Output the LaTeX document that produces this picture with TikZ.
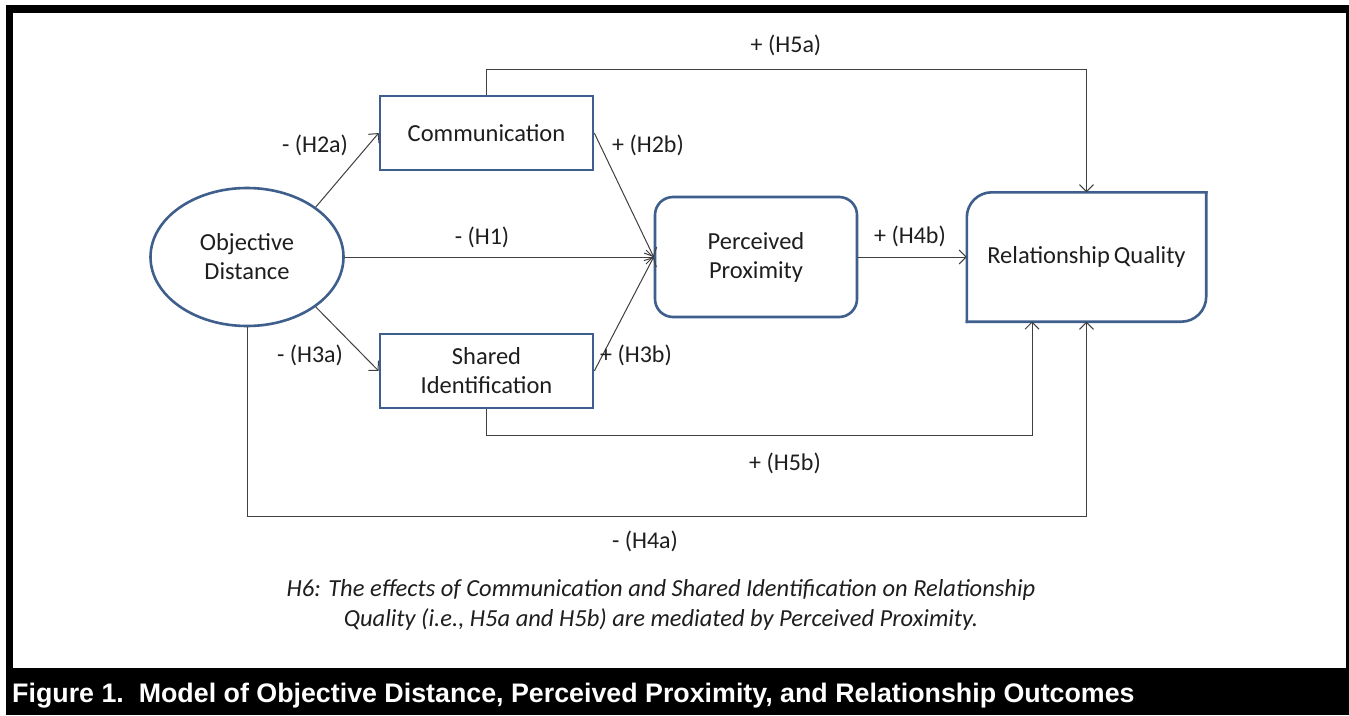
\documentclass[tikz,border=0pt]{standalone}
\usepackage{fontspec}
\setmainfont{Carlito}
\newfontfamily\capfont{Liberation Sans}
\usetikzlibrary{arrows.meta,shapes.geometric}
\definecolor{boxblue}{RGB}{62,94,140}
\definecolor{linegray}{RGB}{64,64,64}
\definecolor{txt}{RGB}{30,30,30}
\begin{document}
\begin{tikzpicture}[x=1pt,y=-1pt,
  bx/.style={draw=boxblue,line width=2.6pt},
  con/.style={draw=linegray,line width=1pt,-{Straight Barb[length=7pt,width=14pt,line width=1pt]}},
  ln/.style={draw=linegray,line width=1pt},
  lab/.style={font=\fontsize{24}{29}\selectfont,text=txt,inner sep=0pt},
  nodetext/.style={font=\fontsize{24.5}{29}\selectfont,text=txt,align=center}]
\useasboundingbox (0,0) rectangle (1349,715);
\fill[white] (0,0) rectangle (1349,715);
\fill[black] (6,5) rectangle (1349,715);
\fill[white] (13,13) rectangle (1346,668);

% nodes
\node[bx,nodetext,ellipse,minimum width=193pt,minimum height=138pt,inner sep=0pt] (od) at (247,257) {Objective\\Distance};
\node[bx,nodetext,rectangle,minimum width=213pt,minimum height=74pt,inner sep=0pt] (comm) at (486.5,133) {Communication};
\node[bx,nodetext,rectangle,minimum width=213pt,minimum height=74pt,inner sep=0pt] (sid) at (486.5,371) {Shared\\Identification};
\node[bx,nodetext,rectangle,rounded corners=18pt,minimum width=202pt,minimum height=120pt,inner sep=0pt] (pp) at (756,257) {Perceived\\Proximity};
\node[nodetext,rectangle,minimum width=239pt,minimum height=129pt,inner sep=0pt] (rq) at (1086.5,257) {Relationship\,Quality};
\draw[bx,rounded corners=25pt,line cap=rect] (rq.south west) -- (rq.north west) -- (rq.north east);
\draw[bx,rounded corners=25pt,line cap=rect] (rq.north east) -- (rq.south east) -- (rq.south west);

% connectors
\draw[con] (od.36) -- (comm.west);
\draw[con] (od.-36) -- (sid.west);
\draw[con] (od.east) -- (pp.west);
\draw[con] (comm.east) -- (pp.west);
\draw[con] (sid.east) -- (pp.west);
\draw[con] (pp.east) -- (rq.west);
\coordinate (h5a) at (486.5,69);
\draw[con] (comm.north) -- (h5a) -| (rq.north);
\coordinate (h5b) at (486.5,435);
\coordinate (rqb) at (1032,321.5);
\draw[con] (sid.south) -- (h5b) -| (rqb);
\coordinate (h4a) at (247,516);
\draw[con] (od.south) -- (h4a) -| (rq.south);

% labels
\node[lab] (l5a) at (786,45) {+ (H5a)};
\node[lab] (l2a) at (315,145) {- (H2a)};
\node[lab] (l2b) at (648,145) {+ (H2b)};
\node[lab] (l1) at (482,237) {- (H1)};
\node[lab] (l4b) at (910,236) {+ (H4b)};
\node[lab] (l3a) at (310,355) {- (H3a)};
\node[lab] (l3b) at (636,355) {+ (H3b)};
\node[lab] (l5b) at (785,463) {+ (H5b)};
\node[lab] (l4a) at (645,541) {- (H4a)};

\node[font=\fontsize{24.5}{30}\selectfont\itshape,text=txt,align=center,inner sep=0pt] (h6) at (661,605)
  {H6: The effects of Communication and Shared Identification on Relationship\\Quality (i.e., H5a and H5b) are mediated by Perceived Proximity.};

\node[anchor=base west,inner sep=0pt,text=white,font=\capfont\bfseries\fontsize{26.8}{30}\selectfont] (cap) at (12,702)
  {Figure 1.\ \ Model of Objective Distance, Perceived Proximity, and Relationship Outcomes};
\end{tikzpicture}
\end{document}
